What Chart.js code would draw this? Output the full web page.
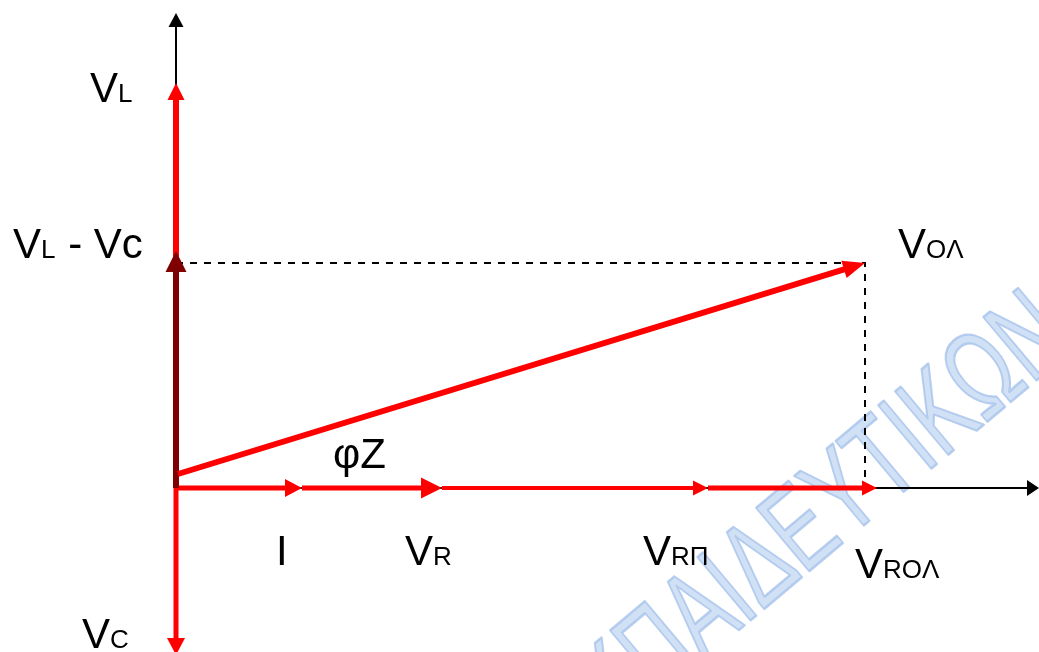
<!DOCTYPE html>
<html><head><meta charset="utf-8">
<script src="https://cdn.jsdelivr.net/npm/chart.js@4/dist/chart.umd.min.js"></script>
<style>html,body{margin:0;padding:0;background:#fff;overflow:hidden}#wrap{width:1039px;height:652px;position:relative}</style>
</head><body><div id="wrap"><canvas id="c"></canvas></div>
<script>
// ---- phasor data (diagram units, origin = 0,0) ----
const vectorNames  = ['VL', 'VC', 'I', 'VR', 'VRΠ', 'VROΛ', 'VL - Vc', 'VOΛ'];
const vectorStartX = [0,   0,    0,   126, 266, 532, 0,   2];
const vectorStartY = [0,   0,    0,   0,   0,   0,   0,   14];
const vectorEndX   = [0,   0,    126, 266, 532, 701, 0,   689];
const vectorEndY   = [405, -167, 0,   0,   0,   0,   237, 225];
const vectorLabels = ['V_L', 'V_C', 'I', 'V_R', 'V_RΠ', 'V_ROΛ', 'V_L - Vc', 'V_OΛ'];
const angleLabel   = 'φZ';
const axisRangeX   = [-176, 863];
const axisRangeY   = [-164, 488];
const axisTipX     = 863;
const axisTipY     = 475;
const watermarkPrefix = 'ΕΚ';
const watermarkText   = 'ΠΑΙΔΕΥΤΙΚΩΝ';

// ---- styles ----
const RED = '#ff0000', DARK = '#7f0000';
const vecStyle = {
  'VL':      {color: RED,  width: 6, len: 17, head: 17, lab: [-86, 19]},
  'VC':      {color: RED,  width: 5, len: 17, head: 18, lab: [-94, -7]},
  'I':       {color: RED,  width: 5, len: 17, head: 18, lab: [-26, 77]},
  'VR':      {color: RED,  width: 5, len: 21, head: 21, lab: [-37, 77]},
  'VRΠ':     {color: RED,  width: 4, len: 15, head: 15, lab: [-65, 77]},
  'VROΛ':    {color: RED,  width: 5, len: 15, head: 15, lab: [-22, 90]},
  'VL - Vc': {color: DARK, width: 6, len: 21, head: 21, lab: [-163, 7]},
  'VOΛ':     {color: RED,  width: 6, len: 22, head: 18, lab: [33, -5]}
};
const FONT = '"Liberation Sans", Arial, sans-serif';
const BIG = 42, SMALL = 26;

const datasets = [];
// axes
datasets.push({kind: 'axis', data: [{x: 0, y: 0}, {x: axisTipX, y: 0}], color: '#000', width: 2, len: 12, head: 16});
datasets.push({kind: 'axis', data: [{x: 0, y: axisRangeY[0]}, {x: 0, y: axisTipY}], color: '#000', width: 2, len: 14, head: 15});
// projection (dashed) lines from the resultant tip
const vi = vectorNames.indexOf('VOΛ');
datasets.push({kind: 'dash', data: [{x: 0, y: vectorEndY[vi]}, {x: vectorEndX[vi], y: vectorEndY[vi]}, {x: vectorEndX[vi], y: 0}]});
vectorNames.forEach((n, i) => {
  datasets.push(Object.assign({kind: 'vec', name: n, label: vectorLabels[i],
    data: [{x: vectorStartX[i], y: vectorStartY[i]}, {x: vectorEndX[i], y: vectorEndY[i]}]}, vecStyle[n]));
});
datasets.forEach(d => {
  d.showLine = d.kind === 'dash';
  d.borderColor = '#000'; d.borderWidth = 2; d.borderDash = [7, 7];
  d.pointRadius = 0; d.pointHoverRadius = 0; d.fill = false; d.tension = 0;
});

function arrow(ctx, p0, p1, s) {
  const dx = p1.x - p0.x, dy = p1.y - p0.y, L = Math.hypot(dx, dy);
  const ux = dx / L, uy = dy / L;
  const bx = p1.x - ux * s.len, by = p1.y - uy * s.len;
  ctx.strokeStyle = s.color; ctx.fillStyle = s.color; ctx.lineWidth = s.width; ctx.lineCap = 'butt';
  ctx.beginPath(); ctx.moveTo(p0.x, p0.y); ctx.lineTo(bx + ux, by + uy); ctx.stroke();
  const h = s.head / 2;
  ctx.beginPath(); ctx.moveTo(p1.x, p1.y);
  ctx.lineTo(bx - uy * h, by + ux * h); ctx.lineTo(bx + uy * h, by - ux * h); ctx.closePath(); ctx.fill();
}
function parseRich(str) {
  const runs = []; let sub = false, cur = '';
  for (const ch of str) {
    if (ch === '_') { if (cur) runs.push({t: cur, sub}); cur = ''; sub = true; continue; }
    if (ch === ' ' && sub) { if (cur) runs.push({t: cur, sub}); cur = ''; sub = false; }
    cur += ch;
  }
  if (cur) runs.push({t: cur, sub});
  return runs;
}
function drawRich(ctx, str, x, y) {
  let cx = x;
  ctx.fillStyle = '#000'; ctx.textBaseline = 'alphabetic'; ctx.textAlign = 'left';
  parseRich(str).forEach(r => {
    ctx.font = (r.sub ? SMALL : BIG) + 'px ' + FONT;
    ctx.fillText(r.t, cx, y);
    cx += ctx.measureText(r.t).width + (r.sub ? 1 : 0);
  });
}

const phasorPlugin = {
  id: 'phasor',
  beforeDatasetsDraw(chart) {
    const ctx = chart.ctx, xs = chart.scales.x, ys = chart.scales.y;
    ctx.save();
    // faint watermark behind the diagram
    const ax = xs.getPixelForValue(482), ay = ys.getPixelForValue(-210);
    ctx.translate(ax, ay); ctx.rotate(-40 * Math.PI / 180); ctx.scale(0.68, 1);
    ctx.font = '120px ' + FONT;
    const pre = ctx.measureText(watermarkPrefix).width;
    ctx.lineJoin = 'round';
    ctx.fillStyle = 'rgba(196,216,242,0.8)';
    ctx.fillText(watermarkPrefix + watermarkText, -pre, 0);
    ctx.strokeStyle = 'rgba(170,198,236,0.85)'; ctx.lineWidth = 2.5;
    ctx.strokeText(watermarkPrefix + watermarkText, -pre, 0);
    ctx.restore();
  },
  afterDatasetsDraw(chart) {
    const ctx = chart.ctx;
    ctx.save();
    chart.data.datasets.forEach((d, i) => {
      if (d.kind !== 'axis') return;
      const pts = chart.getDatasetMeta(i).data;
      arrow(ctx, pts[0], pts[1], d);
    });
    chart.data.datasets.forEach((d, i) => {
      if (d.kind !== 'vec') return;
      const pts = chart.getDatasetMeta(i).data;
      arrow(ctx, pts[0], pts[1], d);
    });
    chart.data.datasets.forEach((d, i) => {
      if (d.kind !== 'vec') return;
      const tip = chart.getDatasetMeta(i).data[1];
      drawRich(ctx, d.label, tip.x + d.lab[0], tip.y + d.lab[1]);
    });
    const o = chart.getDatasetMeta(0).data[0];
    drawRich(ctx, angleLabel, o.x + 157, o.y - 20);
    ctx.restore();
  }
};

new Chart(document.getElementById('c'), {
  type: 'scatter',
  data: {datasets},
  options: {
    responsive: true, maintainAspectRatio: false, animation: false,
    layout: {padding: 0},
    plugins: {legend: {display: false}, tooltip: {enabled: false}},
    events: [],
    scales: {
      x: {type: 'linear', min: axisRangeX[0], max: axisRangeX[1], display: false},
      y: {type: 'linear', min: axisRangeY[0], max: axisRangeY[1], display: false}
    }
  },
  plugins: [phasorPlugin]
});
</script></body></html>
